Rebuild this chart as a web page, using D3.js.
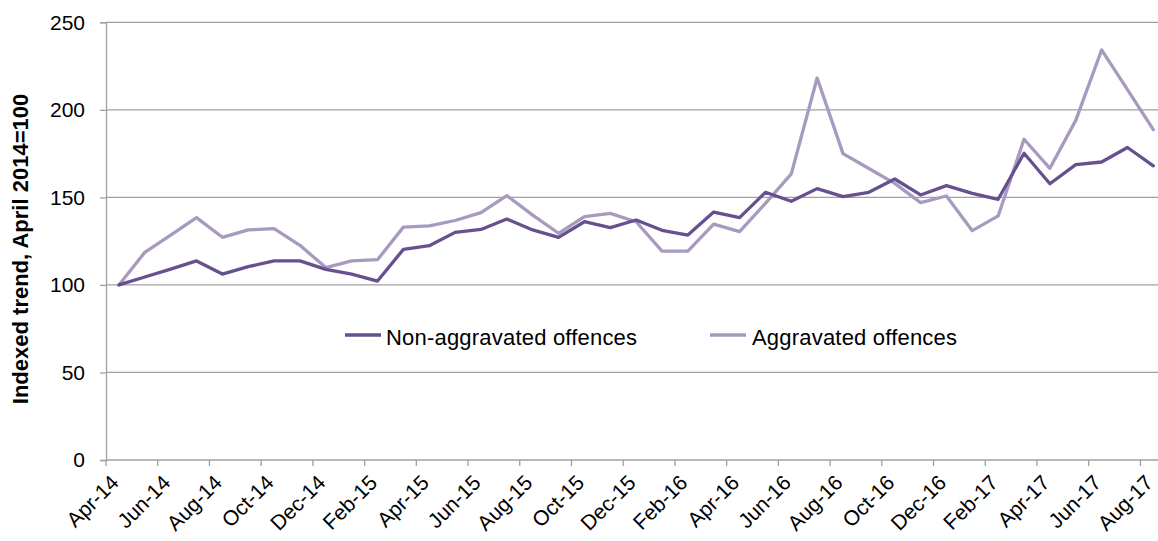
<!DOCTYPE html>
<html>
<head>
<meta charset="utf-8">
<script src="https://cdn.jsdelivr.net/npm/d3@7"></script>
<style>
  html, body { margin: 0; padding: 0; background: #fff; }
  svg { display: block; }
  text { font-family: "Liberation Sans", Arial, sans-serif; fill: #000; }
</style>
</head>
<body>
<svg id="chart" width="1158" height="541"></svg>
<script>
const months = ["Apr-14","May-14","Jun-14","Jul-14","Aug-14","Sep-14","Oct-14","Nov-14","Dec-14",
  "Jan-15","Feb-15","Mar-15","Apr-15","May-15","Jun-15","Jul-15","Aug-15","Sep-15","Oct-15","Nov-15","Dec-15",
  "Jan-16","Feb-16","Mar-16","Apr-16","May-16","Jun-16","Jul-16","Aug-16","Sep-16","Oct-16","Nov-16","Dec-16",
  "Jan-17","Feb-17","Mar-17","Apr-17","May-17","Jun-17","Jul-17","Aug-17"];

const nonAggravated = [100,104.5,109,113.7,106.2,110.4,113.7,113.7,108.9,106.2,102.2,120.3,122.4,130.0,131.7,
  137.6,131.4,127.2,136.1,132.7,137.1,131.2,128.5,141.6,138.4,152.9,147.8,155.0,150.4,152.9,160.5,151.4,
  156.7,152.3,148.9,175.2,157.8,168.7,170.2,178.5,168.0];

const aggravated = [100,118.6,128.5,138.4,127.2,131.4,132.1,122.6,109.9,113.7,114.4,133.0,133.7,136.8,141.3,
  151.0,139.9,129.5,139.0,140.9,136.1,119.3,119.3,134.7,130.4,146.6,163.4,218.2,175.0,166.5,158.0,147.0,
  150.8,131.0,139.4,183.2,166.6,194.0,234.2,211.5,188.7];

const yTicks = [0,50,100,150,200,250];
const seriesNames = ["Non-aggravated offences","Aggravated offences"];
const seriesColors = ["#67508f","#a899bf"];
const yTitle = "Indexed trend, April 2014=100";

const svg = d3.select("#chart");
const mLeft = 106, mTop = 22.3, mBottom = 460;
const band = 25.86;
const mRight = mLeft + band * months.length;

const x = d3.scaleBand().domain(months).range([mLeft, mRight]).paddingInner(0).paddingOuter(0);
const y = d3.scaleLinear().domain([0,250]).range([mBottom, mTop]);

const gridColor = "#a0a0a0";

// gridlines
svg.append("g").selectAll("line").data(yTicks.filter(d => d > 0)).join("line")
  .attr("x1", mLeft).attr("x2", 1158)
  .attr("y1", d => y(d)).attr("y2", d => y(d))
  .attr("stroke", gridColor).attr("stroke-width", 1.3);

// y axis
const yAxis = svg.append("g").attr("transform", `translate(${mLeft},0)`)
  .call(d3.axisLeft(y).tickValues(yTicks).tickSize(6).tickPadding(15));
yAxis.select(".domain").attr("stroke", gridColor).attr("stroke-width", 1.3);
yAxis.selectAll(".tick line").attr("stroke", gridColor).attr("stroke-width", 1.3);
yAxis.selectAll(".tick text").style("font-size", "21px").style("font-family", "Liberation Sans, Arial, sans-serif").attr("fill", "#000");

// x axis
const xTickMonths = months.filter((m, i) => i % 2 === 0);
const xg = svg.append("g");
xg.append("line").attr("x1", mLeft).attr("x2", 1158).attr("y1", mBottom).attr("y2", mBottom)
  .attr("stroke", gridColor).attr("stroke-width", 1.3);
xg.selectAll("line.tk").data(xTickMonths).join("line").attr("class","tk")
  .attr("x1", d => x(d)).attr("x2", d => x(d))
  .attr("y1", mBottom).attr("y2", mBottom + 6)
  .attr("stroke", gridColor).attr("stroke-width", 1.3);
xg.selectAll("text").data(xTickMonths).join("text")
  .attr("transform", d => `translate(${x(d) + x.bandwidth()/2 + 1},${mBottom + 24}) rotate(-45)`)
  .attr("text-anchor", "end")
  .style("font-size", "21px")
  .text(d => d);

// lines
const line = d3.line().x((d, i) => x(months[i]) + x.bandwidth()/2).y(d => y(d));
[aggravated, nonAggravated].forEach((s, k) => {
  const col = k === 0 ? seriesColors[1] : seriesColors[0];
  svg.append("path").datum(s).attr("d", line)
    .attr("fill", "none").attr("stroke", col).attr("stroke-width", 3.3)
    .attr("stroke-linejoin", "round").attr("stroke-linecap", "round");
});

// legend
const legendItems = [
  {name: seriesNames[0], color: seriesColors[0], lx: 345, tx: 386},
  {name: seriesNames[1], color: seriesColors[1], lx: 710, tx: 752}
];
const lg = svg.append("g");
legendItems.forEach(it => {
  lg.append("line").attr("x1", it.lx).attr("x2", it.lx + 36).attr("y1", 335).attr("y2", 335)
    .attr("stroke", it.color).attr("stroke-width", 3.3);
  lg.append("text").attr("x", it.tx).attr("y", 345).style("font-size", "22px")
    .style("letter-spacing", "0.2px").text(it.name);
});

// y title
svg.append("text")
  .attr("transform", `translate(28,249) rotate(-90)`)
  .attr("text-anchor", "middle")
  .style("font-size", "22px").style("font-weight", "bold")
  .text(yTitle);
</script>
</body>
</html>
